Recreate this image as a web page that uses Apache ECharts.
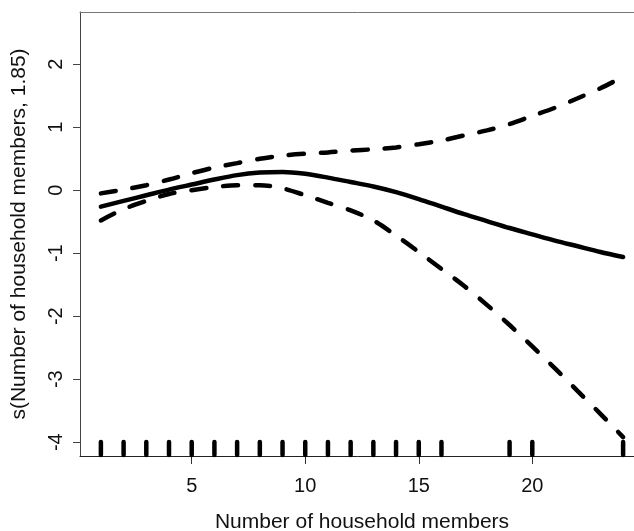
<!DOCTYPE html>
<html>
<head>
<meta charset="utf-8">
<script src="https://cdn.jsdelivr.net/npm/echarts@6/dist/echarts.min.js"></script>
<style>html,body{margin:0;padding:0;background:#fff;}#c{width:634px;height:531px;}</style>
</head>
<body>
<div id="c"></div>
<script>
const xs = [1,2,3,4,5,6,7,8,9,10,11,12,13,14,15,16,17,18,19,20,21,22,23,24];
const fit = [-0.26,-0.17,-0.08,0.01,0.09,0.17,0.24,0.28,0.29,0.26,0.20,0.13,0.06,-0.03,-0.14,-0.26,-0.38,-0.49,-0.60,-0.70,-0.80,-0.89,-0.98,-1.06];
const upper = [-0.05,0.01,0.08,0.17,0.27,0.36,0.43,0.50,0.55,0.58,0.60,0.63,0.65,0.68,0.73,0.79,0.87,0.95,1.05,1.18,1.31,1.46,1.62,1.80];
const lower = [-0.48,-0.30,-0.17,-0.06,0.00,0.05,0.08,0.08,0.03,-0.08,-0.20,-0.32,-0.48,-0.72,-0.98,-1.25,-1.52,-1.82,-2.14,-2.48,-2.83,-3.19,-3.55,-3.92];
const rug = [1,2,3,4,5,6,7,8,9,10,11,12,13,14,15,16,19,20,24];
const xTicks = [5,10,15,20];
const yTicks = [-4,-3,-2,-1,0,1,2];
const xTitle = 'Number of household members';
const yTitle = 's(Number of household members, 1.85)';

const X_MIN = 0.08, X_MAX = 24.92, Y_MIN = -4.22, Y_MAX = 2.83;
const FONT = 'Liberation Sans, Arial, sans-serif';

const pair = arr => xs.map((x, i) => [x, arr[i]]);

const chart = echarts.init(document.getElementById('c'), null, {renderer: 'canvas'});
chart.setOption({
  animation: false,
  backgroundColor: '#fff',
  grid: {left: 80, top: 12, width: 564, height: 444, show: false, containLabel: false, outerBoundsMode: 'none'},
  xAxis: [{
    type: 'value', min: X_MIN, max: X_MAX,
    name: xTitle, nameLocation: 'middle', nameGap: 56,
    nameTextStyle: {fontFamily: FONT, fontSize: 21, color: '#111'},
    axisLine: {show: true, onZero: false, lineStyle: {color: '#222', width: 1}},
    axisTick: {show: true, length: 8, customValues: xTicks, lineStyle: {color: '#333'}},
    axisLabel: {customValues: xTicks, fontFamily: FONT, fontSize: 20, color: '#111', margin: 20},
    splitLine: {show: false}
  }, {
    type: 'value', position: 'top', min: X_MIN, max: X_MAX,
    axisLine: {show: true, onZero: false, lineStyle: {color: '#777', width: 1}},
    axisTick: {show: false}, axisLabel: {show: false}, splitLine: {show: false}
  }],
  yAxis: {
    type: 'value', min: Y_MIN, max: Y_MAX,
    name: yTitle, nameLocation: 'middle', nameGap: 50, nameRotate: 90,
    nameTextStyle: {fontFamily: FONT, fontSize: 21, color: '#111'},
    axisLine: {show: true, onZero: false, lineStyle: {color: '#444', width: 1}},
    axisTick: {show: true, length: 7, customValues: yTicks, lineStyle: {color: '#444'}},
    axisLabel: {customValues: yTicks, rotate: 90, fontFamily: FONT, fontSize: 20, color: '#111', margin: 14},
    splitLine: {show: false}
  },
  series: [
    {type: 'line', data: pair(fit), smooth: 0.3, symbol: 'none', lineStyle: {color: '#000', width: 4.5, cap: 'round'}},
    {type: 'line', data: pair(upper), smooth: 0.3, symbol: 'none', lineStyle: {color: '#000', width: 4.5, type: [15, 17], cap: 'round'}},
    {type: 'line', data: pair(lower), smooth: 0.3, symbol: 'none', lineStyle: {color: '#000', width: 4.5, type: [15, 17], cap: 'round'}},
    {type: 'custom', data: rug.map(v => [v]), encode: {x: 0},
      renderItem: function (params, api) {
        const p = api.coord([api.value(0), Y_MIN]);
        return {type: 'line', shape: {x1: p[0], y1: p[1] - 1, x2: p[0], y2: p[1] - 14},
          style: {stroke: '#000', lineWidth: 4.5, lineCap: 'round'}};
      }
    }
  ]
});
</script>
</body>
</html>
